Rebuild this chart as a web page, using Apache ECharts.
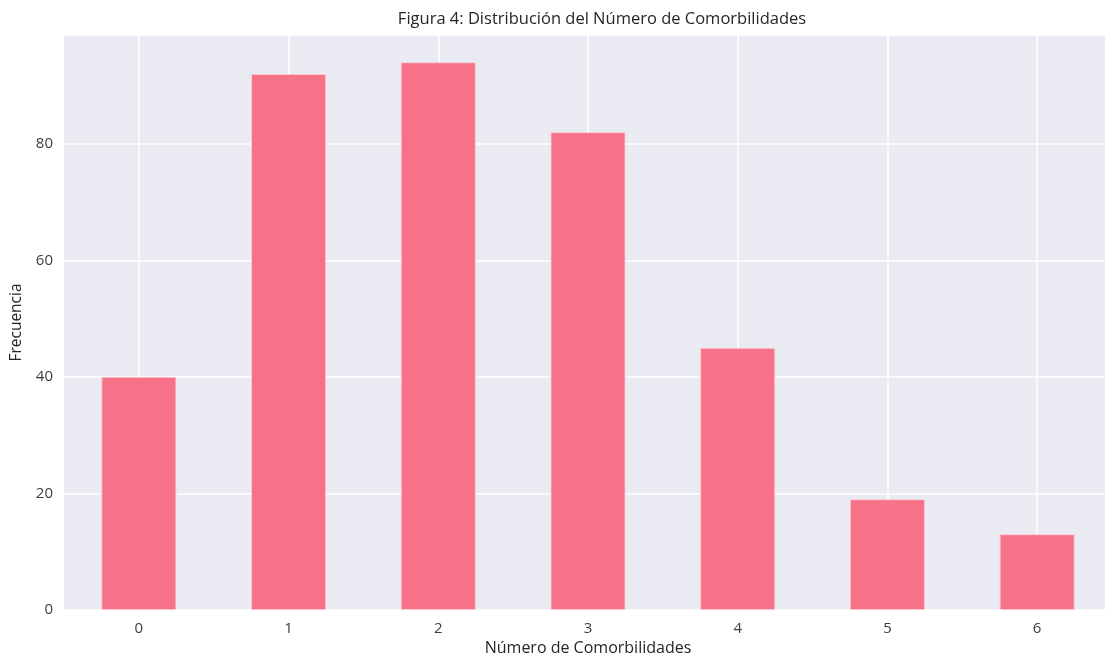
<!DOCTYPE html>
<html>
<head>
<meta charset="utf-8">
<script src="https://cdn.jsdelivr.net/npm/echarts@6/dist/echarts.min.js"></script>
<style>
  html, body { margin: 0; padding: 0; background: #fff; }
  #chart { width: 1105px; height: 657px; }
</style>
</head>
<body>
<div id="chart"></div>
<script>
// número de comorbilidades y su frecuencia
const categories = ['0', '1', '2', '3', '4', '5', '6'];
const frecuencias = [40, 92, 94, 82, 45, 19, 13];
const yTicks = [0, 20, 40, 60, 80];

const chart = echarts.init(document.getElementById('chart'));
const font = '"Open Sans", "DejaVu Sans", sans-serif';

chart.setOption({
  animation: false,
  textStyle: { fontFamily: font },
  title: {
    text: 'Figura 4: Distribución del Número de Comorbilidades',
    left: 597, top: 6, textAlign: 'center',
    textStyle: { fontSize: 16.5, fontWeight: 'normal', color: '#262626', fontFamily: font }
  },
  grid: { left: 64, right: -7, top: 35, bottom: 47, containLabel: false, outerBoundsMode: 'none',
          show: true, backgroundColor: '#EAEAF2', borderWidth: 0 },
  xAxis: {
    type: 'category',
    data: categories,
    name: 'Número de Comorbilidades',
    nameLocation: 'middle',
    nameGap: 30,
    nameTextStyle: { fontSize: 16, color: '#262626' },
    axisLine: { show: false },
    axisTick: { show: false },
    axisLabel: { fontSize: 15, color: '#3d3d3d', margin: 11 },
    splitLine: { show: false },
    boundaryGap: true
  },
  yAxis: {
    type: 'value',
    min: 0, max: 98.7, interval: 20,
    name: 'Frecuencia',
    nameLocation: 'middle',
    nameGap: 38,
    nameTextStyle: { fontSize: 15.5, color: '#262626' },
    axisLine: { show: false },
    axisTick: { show: false },
    axisLabel: {
      fontSize: 15, color: '#3d3d3d', margin: 11,
      formatter: v => yTicks.includes(v) ? String(v) : ''
    },
    splitLine: { show: true, lineStyle: { color: '#fff', width: 1.5 } }
  },
  series: [{
    type: 'bar',
    data: frecuencias,
    barWidth: '50%',
    z: 2,
    itemStyle: { color: '#F77189', borderColor: '#fbd0d8', borderWidth: 0.8 },
    // líneas verticales de la rejilla en el centro de cada categoría
    markLine: {
      z: 1,
      silent: true,
      symbol: 'none',
      label: { show: false },
      lineStyle: { color: '#fff', width: 1.5, type: 'solid' },
      data: categories.map(c => ({ xAxis: c }))
    }
  }]
});
</script>
</body>
</html>
